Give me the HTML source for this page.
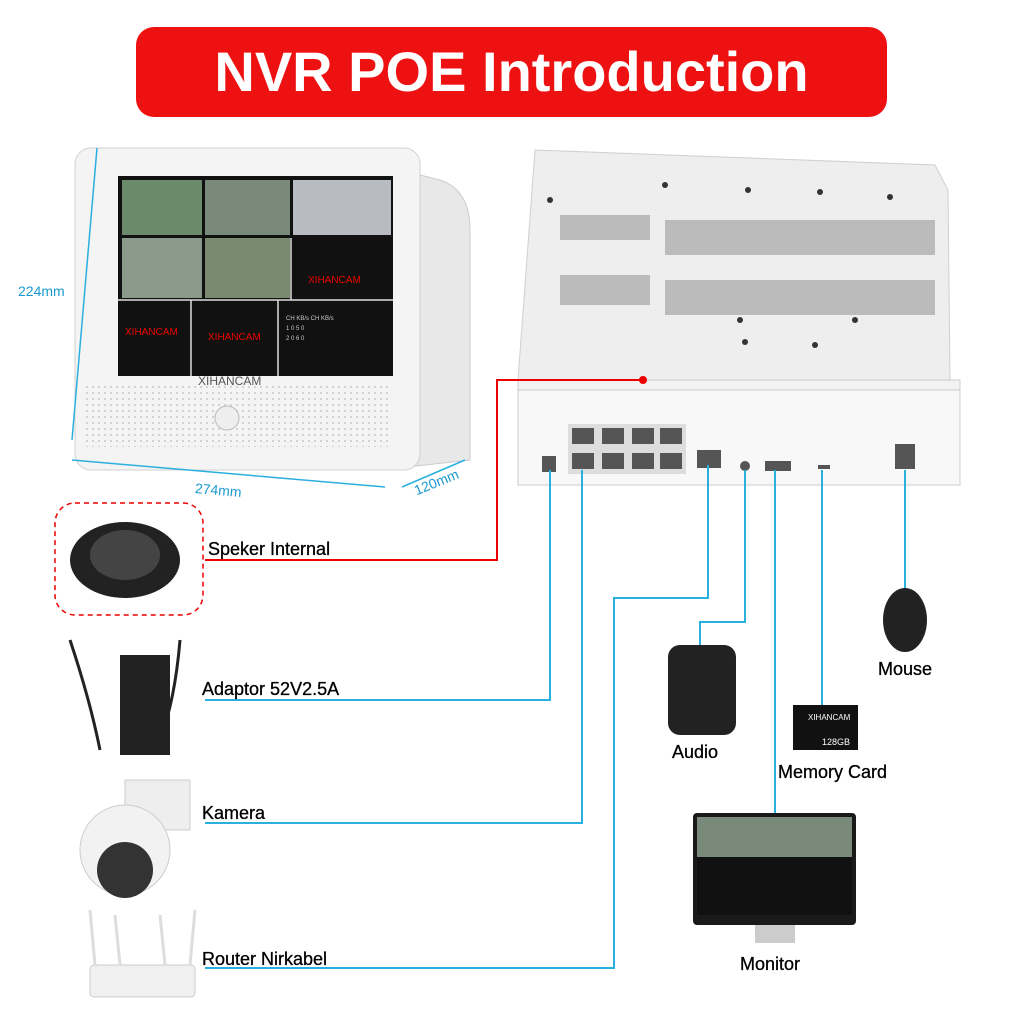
<!DOCTYPE html>
<html><head><style>
body{margin:0;width:1024px;height:1024px;background:#fff;position:relative;overflow:hidden;font-family:"Liberation Sans",sans-serif}
.a{position:absolute}
.lbl{position:absolute;font-size:18px;color:#000;font-weight:500;-webkit-text-stroke:0.3px #000}
</style></head><body>
<div class="a" style="left:136px;top:27px;width:751px;height:90px;background:#ee1111;border-radius:18px;color:#fff;font-size:56px;font-weight:bold;text-align:center;line-height:90px">NVR POE Introduction</div>

<svg class="a" style="left:0;top:0" width="1024" height="1024">
<defs><pattern id="dots" width="6" height="6" patternUnits="userSpaceOnUse"><circle cx="3" cy="3" r="1" fill="#c8c8c8"/></pattern></defs>
<path d="M400 170 L440 180 Q470 190 470 230 L470 460 L380 470 Z" fill="#e8e8e8" stroke="#ccc"/>
<rect x="75" y="148" width="345" height="322" rx="16" fill="#f4f4f4" stroke="#d0d0d0"/>
<rect x="118" y="176" width="275" height="200" fill="#111"/>
<rect x="122" y="180" width="80" height="55" fill="#6b8a6a"/>
<rect x="205" y="180" width="85" height="55" fill="#7a8a7a"/>
<rect x="293" y="180" width="98" height="55" fill="#b8bcc0"/>
<rect x="122" y="238" width="80" height="60" fill="#8a9a8a"/>
<rect x="205" y="238" width="85" height="60" fill="#7a8a70"/>
<g stroke="#ddd" stroke-width="1.5"><line x1="118" y1="300" x2="393" y2="300"/><line x1="191" y1="300" x2="191" y2="376"/><line x1="278" y1="300" x2="278" y2="376"/><line x1="291" y1="238" x2="291" y2="300"/></g>
<text x="308" y="283" fill="#e00" font-size="10" font-family="Liberation Sans">XIHANCAM</text>
<text x="125" y="335" fill="#e00" font-size="10" font-family="Liberation Sans">XIHANCAM</text>
<text x="208" y="340" fill="#e00" font-size="10" font-family="Liberation Sans">XIHANCAM</text>
<text x="286" y="320" fill="#ccc" font-size="6" font-family="Liberation Sans">CH KB/s CH KB/s</text>
<text x="286" y="330" fill="#ccc" font-size="6" font-family="Liberation Sans">1  0   5  0</text>
<text x="286" y="340" fill="#ccc" font-size="6" font-family="Liberation Sans">2  0   6  0</text>
<text x="198" y="385" fill="#555" font-size="12" font-family="Liberation Sans">XIHANCAM</text>
<rect x="85" y="385" width="305" height="62" fill="url(#dots)"/>
<circle cx="227" cy="418" r="12" fill="#eee" stroke="#bbb"/>
<g stroke="#2ab0e0" stroke-width="1.5" fill="none">
<line x1="97" y1="148" x2="72" y2="440"/>
<line x1="72" y1="460" x2="385" y2="487"/>
<line x1="402" y1="487" x2="465" y2="460"/>
</g>
<path d="M535 150 L935 165 L948 190 L950 380 L518 380 Z" fill="#eeeeee" stroke="#cfcfcf"/>
<g fill="#bbb">
<rect x="560" y="215" width="90" height="25"/><rect x="665" y="220" width="270" height="35"/>
<rect x="560" y="275" width="90" height="30"/><rect x="665" y="280" width="270" height="35"/>
</g>
<g fill="#333"><circle cx="665" cy="185" r="3"/><circle cx="748" cy="190" r="3"/><circle cx="820" cy="192" r="3"/><circle cx="890" cy="197" r="3"/><circle cx="550" cy="200" r="3"/><circle cx="740" cy="320" r="3"/><circle cx="855" cy="320" r="3"/><circle cx="745" cy="342" r="3"/><circle cx="815" cy="345" r="3"/></g>
<path d="M518 380 L960 380 L960 485 L518 485 Z" fill="#f2f2f2" stroke="#ccc"/>
<rect x="518" y="390" width="442" height="95" fill="#f8f8f8" stroke="#ccc"/>
<rect x="568" y="424" width="118" height="50" fill="#ddd"/>
<g fill="#555">
<rect x="572" y="428" width="22" height="16"/><rect x="602" y="428" width="22" height="16"/><rect x="632" y="428" width="22" height="16"/><rect x="660" y="428" width="22" height="16"/>
<rect x="572" y="453" width="22" height="16"/><rect x="602" y="453" width="22" height="16"/><rect x="632" y="453" width="22" height="16"/><rect x="660" y="453" width="22" height="16"/>
<rect x="697" y="450" width="24" height="18"/>
<rect x="542" y="456" width="14" height="16"/>
<circle cx="745" cy="466" r="5"/>
<rect x="765" y="461" width="26" height="10"/>
<rect x="818" y="465" width="12" height="4"/>
<rect x="895" y="444" width="20" height="25"/>
</g>
<polyline points="643,380 497,380 497,560 205,560" stroke="#e00" stroke-width="2" fill="none"/>
<circle cx="643" cy="380" r="4" fill="#e00"/>
<rect x="55" y="503" width="148" height="112" rx="20" fill="none" stroke="#e00" stroke-width="1.5" stroke-dasharray="5,4"/>
<ellipse cx="125" cy="560" rx="55" ry="38" fill="#222"/>
<ellipse cx="125" cy="555" rx="35" ry="25" fill="#444"/>
<g stroke="#2ab0e0" stroke-width="2" fill="none">
<polyline points="550,470 550,700 205,700"/>
<polyline points="582,470 582,823 205,823"/>
<polyline points="708,465 708,598 614,598 614,968 205,968"/>
<polyline points="745,470 745,622 700,622 700,645"/>
<polyline points="775,470 775,815"/>
<polyline points="822,470 822,705"/>
<polyline points="905,470 905,590"/>
</g>
<rect x="120" y="655" width="50" height="100" fill="#222"/>
<path d="M70 640 Q90 700 100 750 M180 640 Q175 700 160 740" stroke="#222" stroke-width="3" fill="none"/>
<rect x="125" y="780" width="65" height="50" fill="#eee" stroke="#ccc"/>
<circle cx="125" cy="850" r="45" fill="#f2f2f2" stroke="#ccc"/>
<circle cx="125" cy="870" r="28" fill="#333"/>
<rect x="90" y="965" width="105" height="32" rx="4" fill="#f0f0f0" stroke="#ccc"/>
<g stroke="#ddd" stroke-width="3"><line x1="95" y1="965" x2="90" y2="910"/><line x1="190" y1="965" x2="195" y2="910"/><line x1="120" y1="965" x2="115" y2="915"/><line x1="165" y1="965" x2="160" y2="915"/></g>
<rect x="668" y="645" width="68" height="90" rx="12" fill="#222"/>
<ellipse cx="905" cy="620" rx="22" ry="32" fill="#222"/>
<rect x="793" y="705" width="65" height="45" fill="#111"/>
<text x="808" y="720" fill="#fff" font-size="8" font-family="Liberation Sans">XIHANCAM</text>
<text x="822" y="745" fill="#fff" font-size="9" font-family="Liberation Sans">128GB</text>
<rect x="693" y="813" width="163" height="112" rx="4" fill="#1a1a1a"/>
<rect x="697" y="817" width="155" height="98" fill="#111"/>
<rect x="697" y="817" width="155" height="40" fill="#7a8a7a"/>
<rect x="755" y="925" width="40" height="18" fill="#ccc"/>
</svg>

<div class="lbl" style="left:18px;top:283px;color:#1a9ad0;font-size:14px;-webkit-text-stroke:0">224mm</div>
<div class="lbl" style="left:195px;top:482px;color:#1a9ad0;font-size:14px;transform:rotate(5deg);-webkit-text-stroke:0">274mm</div>
<div class="lbl" style="left:413px;top:474px;color:#1a9ad0;font-size:14px;transform:rotate(-22deg);-webkit-text-stroke:0">120mm</div>
<div class="lbl" style="left:208px;top:539px">Speker Internal</div>
<div class="lbl" style="left:202px;top:679px">Adaptor 52V2.5A</div>
<div class="lbl" style="left:202px;top:803px">Kamera</div>
<div class="lbl" style="left:202px;top:949px">Router Nirkabel</div>
<div class="lbl" style="left:672px;top:742px">Audio</div>
<div class="lbl" style="left:878px;top:659px">Mouse</div>
<div class="lbl" style="left:778px;top:762px">Memory Card</div>
<div class="lbl" style="left:740px;top:954px">Monitor</div>
</body></html>
